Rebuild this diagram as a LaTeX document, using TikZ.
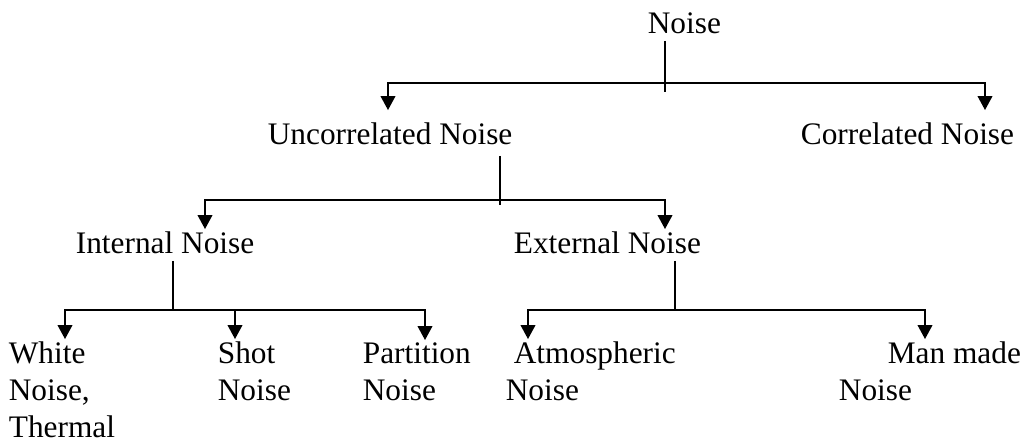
\documentclass[tikz,border=0pt]{standalone}
\usepackage{fontspec}
\setmainfont{Liberation Serif}
\usetikzlibrary{arrows.meta}

\begin{document}
\begin{tikzpicture}[x=0.75pt,y=-0.75pt,line width=1.3pt,
	lbl/.style={inner xsep=0pt,inner ysep=1pt,anchor=base west,align=left,font=\fontsize{23.5}{27.75}\selectfont},
	arr/.style={-{Triangle[width=11pt,length=10.5pt]}}]
	\useasboundingbox (0,0) rectangle (1027,439);

	% base west sits on the last line of each label
	\node [lbl]	(noise)		at (647,33)		{Noise};
	\node [lbl]	(uncorr)	at (267,144)	{Uncorrelated Noise};
	\node [lbl]	(corr)		at (800,144)	{Correlated Noise};
	\node [lbl]	(internal)	at (75,253)		{Internal Noise};
	\node [lbl]	(external)	at (513,253)	{External Noise};
	\node [lbl]	(white)		at (8,437)		{White\\Noise,\\Thermal};
	\node [lbl]	(shot)		at (217,400)	{Shot\\Noise};
	\node [lbl]	(partition)	at (362,400)	{Partition\\Noise};
	\node [lbl]	(atmos)		at (505,400)	{\hspace*{6pt}Atmospheric\\Noise};
	\node [lbl]	(manmade)	at (838,400)	{\hspace*{36.75pt}Man made\\Noise};

	% branch points
	\coordinate (j0) at (665,83);
	\coordinate (j1) at (500,200);
	\coordinate (j2) at (173,310);
	\coordinate (j3) at (675,310);

	\draw [shorten <=4pt] (noise.south -| j0) -- (j0) -- ++(0,9);
	\draw [arr,shorten >=7.5pt] (j0) -| ([shift={(121,0)}]uncorr.north west);
	\draw [arr,shorten >=7.5pt] (j0) -| ([shift={(185,0)}]corr.north west);

	\draw [shorten <=7pt] (uncorr.south -| j1) -- (j1) -- ++(0,5);
	\draw [arr] (j1) -| ([shift={(130,0)}]internal.north west);
	\draw [arr] (j1) -| ([shift={(152,0)}]external.north west);

	\draw [shorten <=4pt] (internal.south -| j2) -- (j2);
	\foreach \n/\dx in {white/57,shot/18,partition/63}
		\draw [arr] (j2) -| ([shift={(\dx,0)}]\n.north west);

	\draw [shorten <=4pt] (external.south -| j3) -- (j3);
	\foreach \n/\dx in {atmos/23,manmade/87}
		\draw [arr] (j3) -| ([shift={(\dx,0)}]\n.north west);
\end{tikzpicture}
\end{document}
